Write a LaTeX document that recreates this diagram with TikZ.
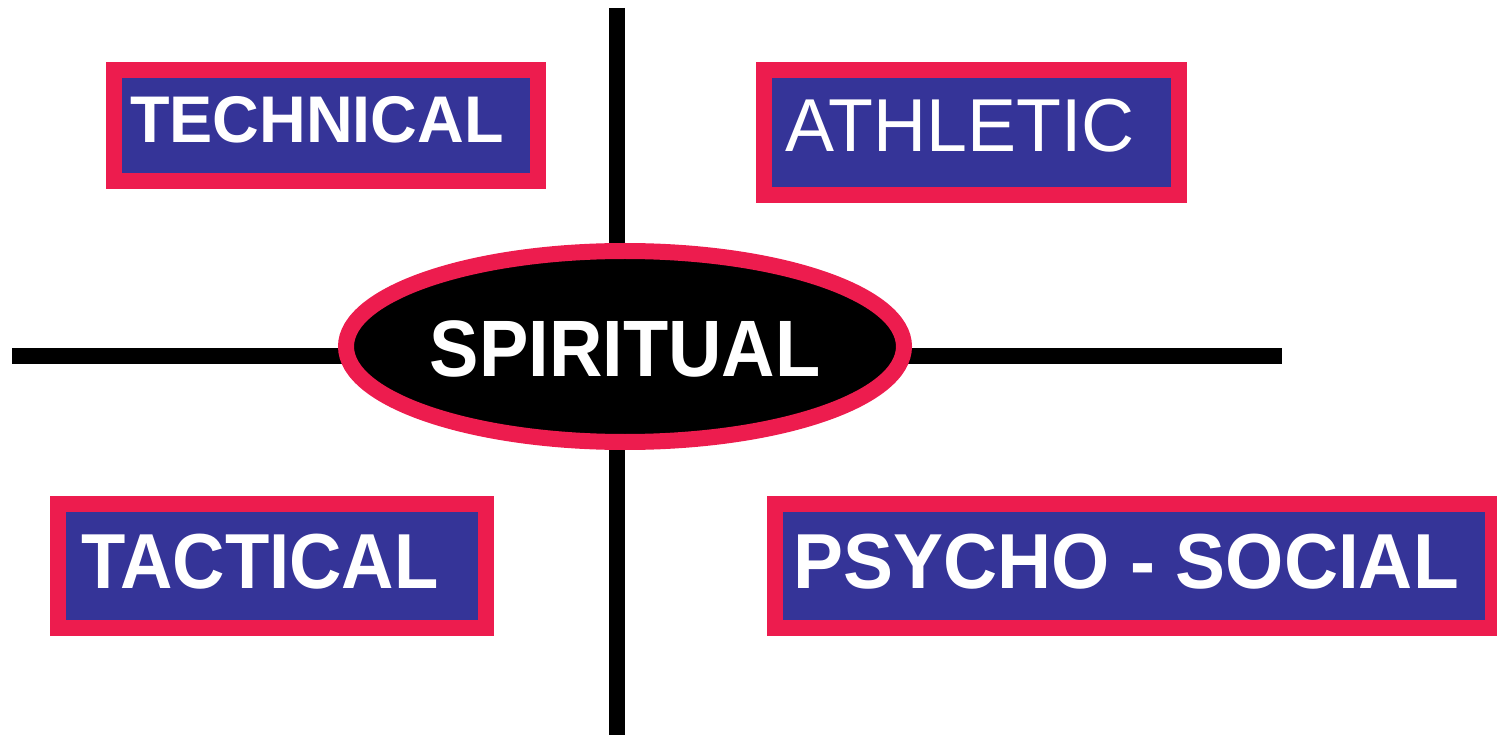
\documentclass[tikz,border=0pt]{standalone}
\usepackage{fontspec}
\usepackage{graphicx}
\setmainfont{Liberation Sans}
\usetikzlibrary{shapes.geometric}
\definecolor{frame}{RGB}{237,28,78}
\definecolor{boxblue}{RGB}{53,52,152}
\tikzset{
  axis/.style={line width=16pt, draw=black},
  catbox/.style={rectangle, draw=frame, fill=boxblue, line width=16pt, inner sep=0pt, outer sep=0pt},
  cattext/.style={anchor=base, inner sep=0pt, text=white},
  hub/.style={ellipse, draw=frame, fill=black, line width=16pt, inner sep=0pt,
              minimum width=558pt, minimum height=191pt},
}
\begin{document}
\begin{tikzpicture}[x=1pt,y=-1pt]
\useasboundingbox (0,0) rectangle (1497,735);
% axes
\coordinate (vtop) at (617,8);
\coordinate (vbot) at (617,740);
\coordinate (hleft) at (12,356);
\coordinate (hright) at (1282,356);
\draw[axis] (vtop) -- (vbot);
\draw[axis] (hleft) -- (hright);
% central ellipse
\node[hub] (hub) at (625,346.5) {};
\node[cattext] (spiritual) at (625,377) {\fontsize{80}{80}\selectfont\bfseries\scalebox{0.925}[1]{SPIRITUAL}};
% boxes (centre-line dimensions)
\node[catbox, minimum width=424pt, minimum height=111pt] (techbox) at (326,125.5) {};
\node[catbox, minimum width=415pt, minimum height=125pt] (athbox) at (971.5,132.5) {};
\node[catbox, minimum width=428pt, minimum height=124pt] (tacbox) at (272,566) {};
\node[catbox, minimum width=718pt, minimum height=124pt] (psybox) at (1134,566) {};
% labels
\node[cattext] (technical) at (317,143) {\fontsize{66}{66}\selectfont\bfseries\scalebox{0.98}[1]{TECHNICAL}};
\node[cattext] (athletic) at (960,152) {\fontsize{75}{75}\selectfont\scalebox{0.98}[1]{ATHLETIC}};
\node[cattext] (tactical) at (260,588) {\fontsize{78}{78}\selectfont\bfseries\scalebox{0.93}[1]{TACTICAL}};
\node[cattext] (psycho) at (1126,588) {\fontsize{78}{78}\selectfont\bfseries\scalebox{0.96}[1]{PSYCHO - SOCIAL}};
\end{tikzpicture}
\end{document}
